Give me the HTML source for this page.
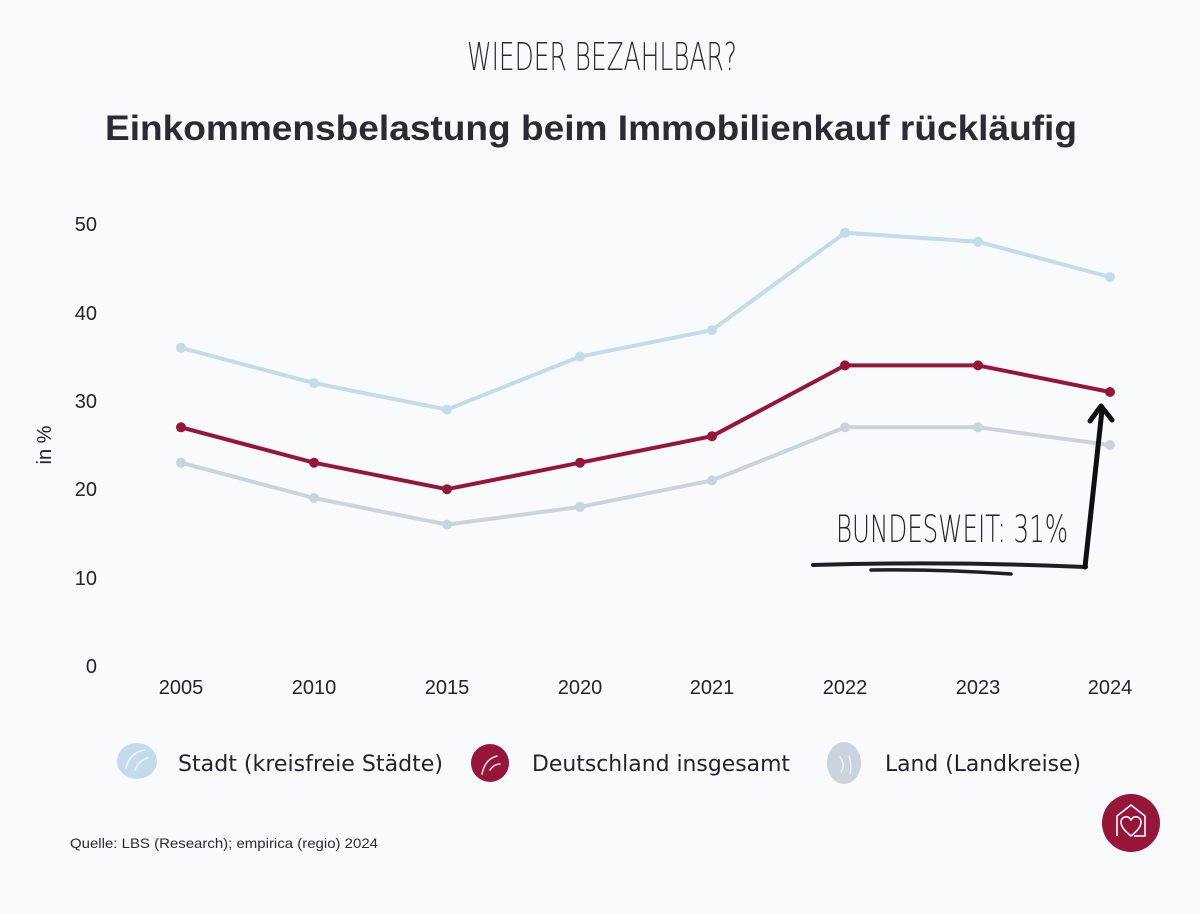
<!DOCTYPE html>
<html>
<head>
<meta charset="utf-8">
<style>
  html,body{margin:0;padding:0;background:#f9fafc;}
  svg{display:block;}
  text{font-family:"Liberation Sans","DejaVu Sans",sans-serif;fill:#23232b;}
</style>
</head>
<body>
<svg width="1200" height="914" viewBox="0 0 1200 914" xmlns="http://www.w3.org/2000/svg">
  <rect width="1200" height="914" fill="#f9fafc"/>

  <!-- Titles -->
  <text x="602" y="70" text-anchor="middle" font-size="38" textLength="270" lengthAdjust="spacingAndGlyphs" style="font-family:'DejaVu Sans','Liberation Sans',sans-serif;font-weight:200;fill:#2a2a33;">WIEDER BEZAHLBAR?</text>
  <text x="591" y="140" text-anchor="middle" font-size="35" font-weight="bold" textLength="972" lengthAdjust="spacingAndGlyphs" style="fill:#2b2b33;">Einkommensbelastung beim Immobilienkauf rückläufig</text>

  <!-- Y axis labels -->
  <g font-size="20" text-anchor="end">
    <text x="97" y="231">50</text>
    <text x="97" y="320">40</text>
    <text x="97" y="408">30</text>
    <text x="97" y="496">20</text>
    <text x="97" y="585">10</text>
    <text x="97" y="673">0</text>
  </g>
  <text transform="translate(51,445) rotate(-90)" text-anchor="middle" font-size="20">in %</text>

  <!-- X axis labels -->
  <g font-size="20" text-anchor="middle">
    <text x="181" y="694">2005</text>
    <text x="314" y="694">2010</text>
    <text x="447" y="694">2015</text>
    <text x="580" y="694">2020</text>
    <text x="712" y="694">2021</text>
    <text x="845" y="694">2022</text>
    <text x="978" y="694">2023</text>
    <text x="1110" y="694">2024</text>
  </g>

  <!-- Series: Stadt -->
  <g fill="#c4dbea" stroke="none">
    <polyline points="181,347.8 314,383.1 447,409.6 580,356.6 712,330.1 845,232.8 978,241.7 1110,277" fill="none" stroke="#c4dbea" stroke-width="4" stroke-linejoin="round"/>
    <circle cx="181" cy="347.8" r="5"/><circle cx="314" cy="383.1" r="5"/><circle cx="447" cy="409.6" r="5"/><circle cx="580" cy="356.6" r="5"/>
    <circle cx="712" cy="330.1" r="5"/><circle cx="845" cy="232.8" r="5"/><circle cx="978" cy="241.7" r="5"/><circle cx="1110" cy="277" r="5"/>
  </g>
  <!-- Series: Land -->
  <g fill="#ccd3dd" stroke="none">
    <polyline points="181,462.7 314,498 447,524.6 580,506.9 712,480.4 845,427.3 978,427.3 1110,445" fill="none" stroke="#ccd3dd" stroke-width="4" stroke-linejoin="round"/>
    <circle cx="181" cy="462.7" r="5"/><circle cx="314" cy="498" r="5"/><circle cx="447" cy="524.6" r="5"/><circle cx="580" cy="506.9" r="5"/>
    <circle cx="712" cy="480.4" r="5"/><circle cx="845" cy="427.3" r="5"/><circle cx="978" cy="427.3" r="5"/><circle cx="1110" cy="445" r="5"/>
  </g>
  <!-- Series: Deutschland -->
  <g fill="#96163a" stroke="none">
    <polyline points="181,427.3 314,462.7 447,489.2 580,462.7 712,436.2 845,365.4 978,365.4 1110,392" fill="none" stroke="#96163a" stroke-width="4" stroke-linejoin="round"/>
    <circle cx="181" cy="427.3" r="5"/><circle cx="314" cy="462.7" r="5"/><circle cx="447" cy="489.2" r="5"/><circle cx="580" cy="462.7" r="5"/>
    <circle cx="712" cy="436.2" r="5"/><circle cx="845" cy="365.4" r="5"/><circle cx="978" cy="365.4" r="5"/><circle cx="1110" cy="392" r="5"/>
  </g>

  <!-- Annotation -->
  <text x="836" y="542" font-size="37" textLength="232" lengthAdjust="spacingAndGlyphs" style="font-family:'DejaVu Sans','Liberation Sans',sans-serif;font-weight:200;fill:#23232b;">BUNDESWEIT: 31%</text>
  <path d="M813,565 Q950,561 1086,567" fill="none" stroke="#1f1f26" stroke-width="4" stroke-linecap="round"/>
  <path d="M871,570 Q940,569 1011,574" fill="none" stroke="#1f1f26" stroke-width="3.5" stroke-linecap="round"/>
  <path d="M1085,567 L1102,410" fill="none" stroke="#0f0f14" stroke-width="5" stroke-linecap="round"/>
  <path d="M1090,421 L1101,406 L1112,420" fill="none" stroke="#0f0f14" stroke-width="5" stroke-linecap="round" stroke-linejoin="round"/>

  <!-- Legend -->
  <ellipse cx="137" cy="761" rx="20" ry="18" fill="#c4dbea"/>
  <path d="M126,768 Q130,752 145,750 M135,770 Q139,760 148,758" fill="none" stroke="#f9fafc" stroke-width="1.5" stroke-linecap="round" opacity="0.8"/>
  <text x="178" y="771" font-size="22" textLength="265" lengthAdjust="spacingAndGlyphs" style="font-family:'DejaVu Sans','Liberation Sans',sans-serif;">Stadt (kreisfreie Städte)</text>

  <ellipse cx="490" cy="763" rx="19" ry="19" fill="#96163a"/>
  <path d="M482,774 Q485,759 497,756 M490,770 Q494,764 500,764" fill="none" stroke="#f9fafc" stroke-width="1.6" stroke-linecap="round" opacity="0.85"/>
  <text x="532" y="771" font-size="22" textLength="258" lengthAdjust="spacingAndGlyphs" style="font-family:'DejaVu Sans','Liberation Sans',sans-serif;">Deutschland insgesamt</text>

  <ellipse cx="844" cy="763" rx="17" ry="21" fill="#ccd3dd"/>
  <path d="M840,757 Q846,765 841,772 M849,756 Q852,766 850,774" fill="none" stroke="#f9fafc" stroke-width="1.3" stroke-linecap="round" opacity="0.8"/>
  <text x="885" y="771" font-size="22" textLength="196" lengthAdjust="spacingAndGlyphs" style="font-family:'DejaVu Sans','Liberation Sans',sans-serif;">Land (Landkreise)</text>

  <!-- Source -->
  <text x="70" y="848" font-size="14" textLength="308" lengthAdjust="spacingAndGlyphs" style="fill:#2b2b33;">Quelle: LBS (Research); empirica (regio) 2024</text>

  <!-- Logo -->
  <circle cx="1131" cy="823" r="29" fill="#96163a"/>
  <path d="M1117,836 L1117,816 L1131,805 L1145,816 L1145,836 L1134,836" fill="none" stroke="#fff" stroke-width="1.6" stroke-linejoin="round"/>
  <path d="M1131,836 C1125,831 1121,827 1121,822 C1121,818 1125,816 1128,817 C1130,818 1131,820 1131,820 C1131,820 1132,818 1134,817 C1137,816 1141,818 1141,822 C1141,827 1137,831 1131,836 Z" fill="none" stroke="#fff" stroke-width="1.6" stroke-linejoin="round"/>
</svg>
</body>
</html>
